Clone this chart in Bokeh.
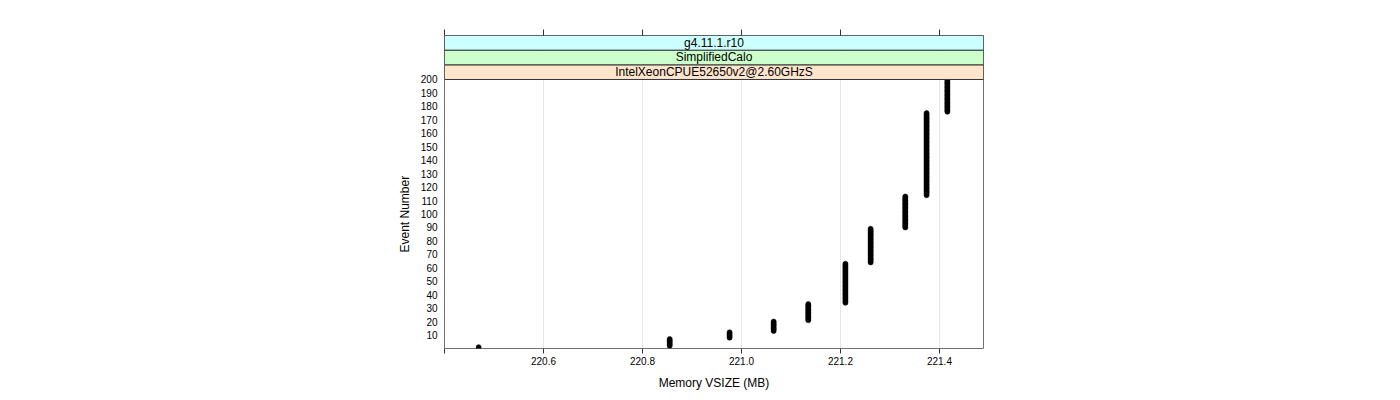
from bokeh.plotting import figure
from bokeh.models import Range1d, FixedTicker, LinearAxis, CustomJSTickFormatter, Title
from bokeh.core.properties import value
from bokeh.embed import file_html
from bokeh.resources import INLINE

# ---- data ----
# memory level (MB) reached, and the range of events that stayed at that level
memory_mb   = [220.469, 220.855, 220.976, 221.065, 221.135, 221.210, 221.261, 221.331, 221.374, 221.416]
first_event = [1, 2, 8, 13, 21, 34, 64, 90, 114, 176]
last_event  = [1, 7, 12, 20, 33, 63, 89, 113, 175, 200]

strip_labels = ["IntelXeonCPUE52650v2@2.60GHzS", "SimplifiedCalo", "g4.11.1.r10"]
strip_colors = ["#ffe5cc", "#ccffcc", "#ccffff"]

x_ticks = [220.4, 220.6, 220.8, 221.0, 221.2, 221.4]
x_grid = [220.6, 220.8, 221.0, 221.2, 221.4]
y_ticks = [10, 20, 30, 40, 50, 60, 70, 80, 90, 100, 110, 120, 130, 140, 150, 160, 170, 180, 190, 200]

X_MIN, X_MAX = 220.4, 221.489
Y_MAX = 200
STRIP_H = 10.9
FONT = "Liberation Sans"

xs, ys = [], []
for m, a, b in zip(memory_mb, first_event, last_event):
    for e in range(a, b + 1):
        xs.append(m)
        ys.append(e)

p = figure(width=1384, height=392,
           x_range=Range1d(X_MIN, X_MAX),
           y_range=Range1d(0, Y_MAX + 3 * STRIP_H),
           output_backend="svg", toolbar_location=None,
           min_border_left=444, min_border_right=401,
           min_border_top=35, min_border_bottom=44)

p.background_fill_color = "white"
p.border_fill_color = "white"
p.outline_line_color = "#707070"
p.outline_line_width = 1

# grid
p.xgrid.ticker = FixedTicker(ticks=x_grid)
p.xgrid.grid_line_color = "#e6e6e6"
p.ygrid.grid_line_color = None

# left axis
ya = p.yaxis[0]
ya.ticker = FixedTicker(ticks=y_ticks)
ya.major_tick_out = 0
ya.major_tick_in = 0
ya.minor_tick_out = 0
ya.minor_tick_in = 0
ya.axis_line_color = None
ya.major_label_standoff = 7
ya.major_label_text_font = FONT
ya.major_label_text_font_size = "10px"
ya.major_label_text_color = "black"

# y axis title, centred on the panel (not on the strips)
p.add_layout(Title(text="Event Number", align="left", offset=96, standoff=11,
                   text_font=FONT, text_font_size="12px",
                   text_font_style="normal", text_color="black"), "left")

# bottom axis
xa = p.xaxis[0]
xa.ticker = FixedTicker(ticks=x_ticks)
xa.formatter = CustomJSTickFormatter(code="return tick < 220.5 ? '' : tick.toFixed(1);")
xa.major_tick_out = 5
xa.major_tick_in = 0
xa.minor_tick_out = 0
xa.minor_tick_in = 0
xa.major_tick_line_color = "#333333"
xa.axis_line_color = None
xa.major_label_standoff = 3
xa.major_label_text_font = FONT
xa.major_label_text_font_size = "10px"
xa.major_label_text_color = "black"
xa.axis_label = "Memory VSIZE (MB)"
xa.axis_label_text_font = FONT
xa.axis_label_text_font_size = "12px"
xa.axis_label_text_font_style = "normal"
xa.axis_label_text_color = "black"
xa.axis_label_standoff = 8

# top axis (ticks only)
ta = LinearAxis(ticker=FixedTicker(ticks=x_ticks),
                formatter=CustomJSTickFormatter(code="return '';"),
                major_tick_out=6, major_tick_in=0,
                minor_tick_out=0, minor_tick_in=0,
                major_tick_line_color="#333333",
                axis_line_color=None,
                major_label_standoff=0)
p.add_layout(ta, "above")

# data points
p.scatter(xs, ys, size=5, fill_color="black", line_color="black", line_width=0.6)

# strips
bottoms = [Y_MAX + i * STRIP_H for i in range(3)]
tops = [b + STRIP_H for b in bottoms]
p.quad(left=[X_MIN] * 3, right=[X_MAX] * 3, bottom=bottoms, top=tops,
       fill_color=strip_colors, line_color="#333333", line_width=1)
p.text(x=[(X_MIN + X_MAX) / 2] * 3, y=[b + STRIP_H / 2 for b in bottoms],
       text=strip_labels, text_align="center", text_baseline="middle",
       text_font=value(FONT), text_font_size="12px", text_color="black")

open("out.html", "w").write(file_html(p, INLINE))
